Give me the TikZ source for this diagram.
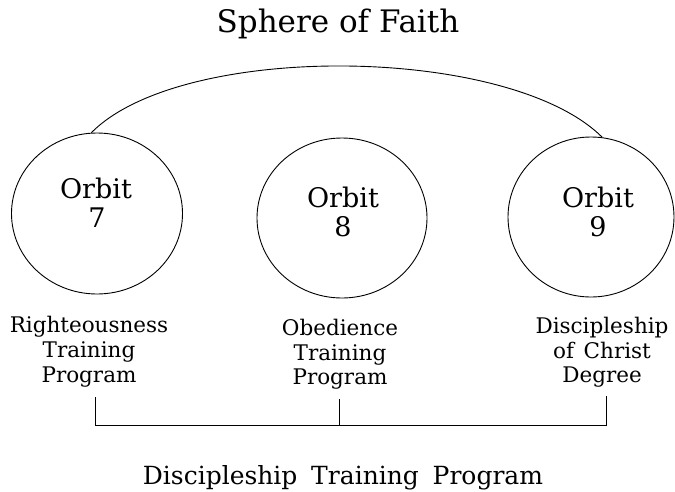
\documentclass[tikz,border=0pt]{standalone}
\usepackage{fontspec}
\setmainfont{DejaVu Serif}
\usetikzlibrary{shapes.geometric}
\begin{document}
\begin{tikzpicture}[x=1pt,y=-1pt,
  orbitc/.style={draw,ellipse,line width=0.9pt,inner sep=0pt},
  orbitt/.style={anchor=base,inner sep=0pt,font=\fontsize{27}{29}\selectfont},
  labt/.style={anchor=base,inner sep=0pt,font=\fontsize{21.5}{25}\selectfont},
  titlet/.style={anchor=base,inner sep=0pt,font=\fontsize{31}{36}\selectfont},
  bott/.style={anchor=base,inner sep=0pt,font=\fontsize{25}{30}\selectfont},
  ln/.style={line width=0.9pt}]
\useasboundingbox (0,0) rectangle (675,491);
% title
\node[titlet] (title) at (338,32) {Sphere of Faith};
% circles
\node[orbitc,minimum width=171pt,minimum height=161pt] (c7) at (97,213.5) {};
\node[orbitc,minimum width=170pt,minimum height=160pt] (c8) at (342,218) {};
\node[orbitc,minimum width=166pt,minimum height=160pt] (c9) at (591,217) {};
% orbit texts
\node[orbitt] (o7a) at (96,198) {Orbit};
\node[orbitt] (o7b) at (97,227) {7};
\node[orbitt] (o8a) at (343,207) {Orbit};
\node[orbitt] (o8b) at (343,236) {8};
\node[orbitt] (o9a) at (598,207) {Orbit};
\node[orbitt] (o9b) at (598,236) {9};
% sphere arc
\draw[ln] (c7.94) .. controls (182,41) and (510,45) .. (c9.82);
% labels
\node[labt] (l7a) at (89,332) {Righteousness};
\node[labt] (l7b) at (89,357) {Training};
\node[labt] (l7c) at (89,382) {Program};
\node[labt] (l8a) at (340,335) {Obedience};
\node[labt] (l8b) at (340,360) {Training};
\node[labt] (l8c) at (340,384) {Program};
\node[labt] (l9a) at (602,333) {Discipleship};
\node[labt] (l9b) at (602,358) {of\hspace{0.45em}Christ};
\node[labt] (l9c) at (602,382) {Degree};
% bracket
\coordinate (b7) at (95,397);
\coordinate (b8) at (339,399);
\coordinate (b9) at (606,396);
\coordinate (bb) at (0,425);
\draw[ln] (b7) -- (b7|-bb) -- (b9|-bb) -- (b9);
\draw[ln] (b8) -- (b8|-bb);
% bottom title
\node[bott] (bottom) at (343,484) {Discipleship\hspace{0.55em}Training\hspace{0.55em}Program};
\end{tikzpicture}
\end{document}
